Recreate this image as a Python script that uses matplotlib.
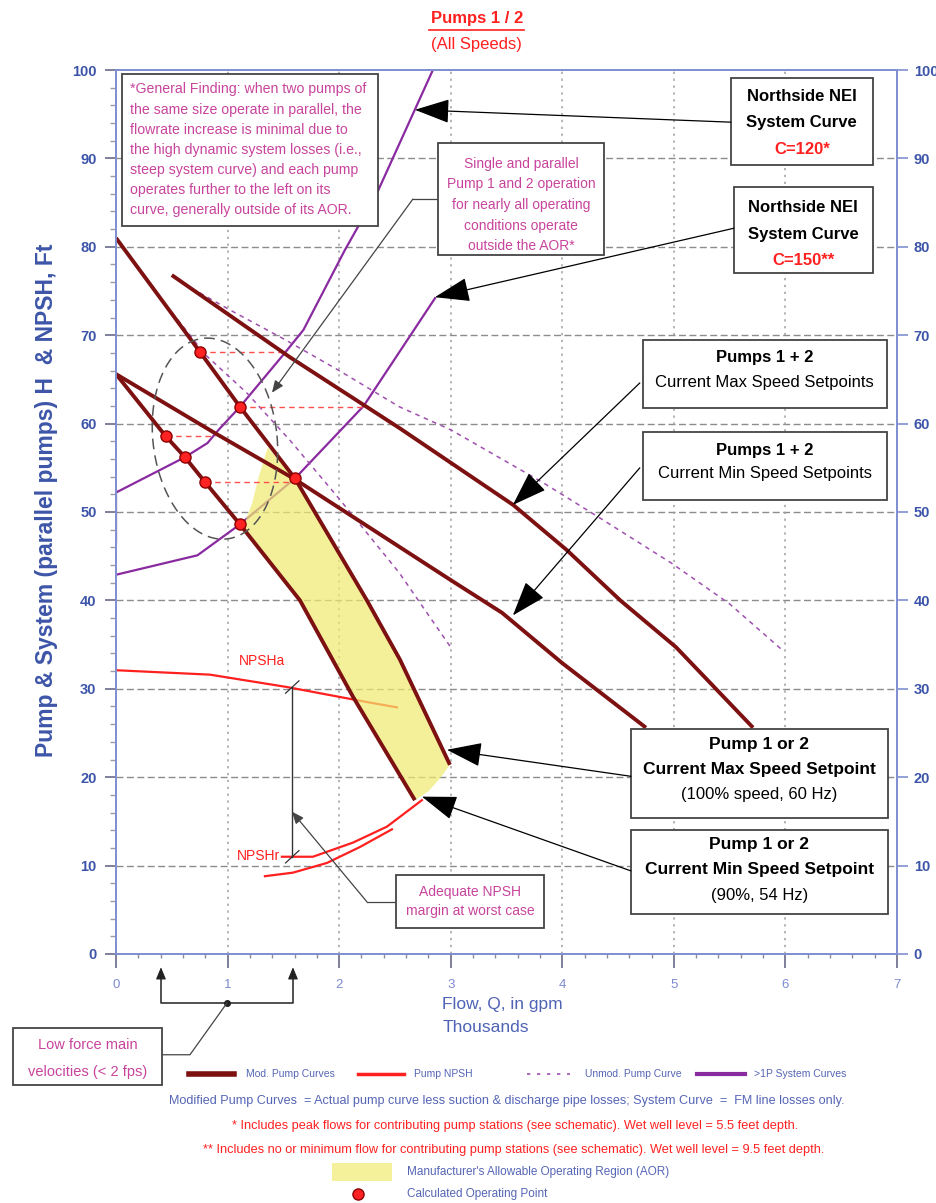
import matplotlib
matplotlib.use("Agg")
import matplotlib.pyplot as plt
import numpy as np
from matplotlib.lines import Line2D
from matplotlib.patches import Rectangle, Polygon
from matplotlib import font_manager

plt.rcParams['font.family'] = ['Liberation Sans', 'DejaVu Sans']
names = {f.name for f in font_manager.fontManager.ttflist}
NARROW = 'Liberation Sans Narrow' if 'Liberation Sans Narrow' in names else 'Liberation Sans'

# ---- data (flow in thousand gpm, head in ft) ----
single_max_q = [0, 0.753, 1.111, 1.604, 2.249, 2.545, 2.993]
single_max_h = [81.0, 68.1, 61.9, 53.8, 40.0, 33.3, 21.4]
single_min_q = [0, 0.444, 0.618, 0.797, 1.111, 1.649, 2.124, 2.679]
single_min_h = [65.6, 58.6, 56.2, 53.4, 48.6, 40.0, 29.1, 17.4]
par_max_q = [0.5, 1.56, 2.54, 3.56, 4.04, 4.52, 5.02, 5.71]
par_max_h = [76.8, 67.5, 59.5, 50.8, 45.7, 40.0, 34.7, 25.6]
par_min_q = [0, 0.89, 1.604, 3.0, 3.46, 4.0, 4.75]
par_min_h = [65.6, 58.9, 53.7, 42.3, 38.6, 32.9, 25.6]

unmod_single_q = [0.5, 0.8, 1.17, 1.56, 2.0, 2.54, 3.0]
unmod_single_h = [72.6, 67.8, 63.5, 58.1, 51.5, 43.1, 34.7]
unmod_par_q = [0.75, 1.0, 1.5, 2.0, 2.54, 3.0, 3.83, 4.34, 4.98, 5.5, 5.97]
unmod_par_h = [74.8, 73.0, 69.6, 66.0, 61.9, 59.3, 53.3, 49.3, 44.2, 39.6, 34.4]

sys120_q = [0, 0, 0.618, 0.82, 0.92, 1.111, 1.52, 1.68, 2.05, 2.34, 2.84]
sys120_h = [46.6, 52.2, 56.2, 57.8, 59.3, 61.9, 68.1, 70.6, 79.6, 86.1, 100]
sys150_q = [0, 0.73, 1.111, 1.604, 2.22, 2.86]
sys150_h = [42.9, 45.1, 48.6, 53.8, 62.0, 74.2]

npsha_q = [0, 0.842, 1.532, 2.249, 2.518]
npsha_h = [32.1, 31.6, 30.2, 28.5, 27.9]
npshr1_q = [1.487, 1.765, 2.124, 2.428, 2.742]
npshr1_h = [11.0, 11.0, 12.6, 14.4, 17.4]
npshr2_q = [1.335, 1.586, 1.891, 2.186, 2.473]
npshr2_h = [8.8, 9.2, 10.3, 12.1, 14.1]

aor_q = [1.36, 1.604, 2.249, 2.545, 2.993, 2.9, 2.8, 2.679, 2.124, 1.649, 1.14, 1.22, 1.28]
aor_h = [57.3, 53.8, 40.0, 33.3, 21.4, 19.8, 18.4, 17.4, 29.1, 40.0, 48.3, 51.0, 54.0]

op_q = [0.753, 1.111, 1.604, 0.444, 0.618, 0.797, 1.111]
op_h = [68.1, 61.9, 53.8, 58.6, 56.2, 53.4, 48.6]
# single-pump point -> parallel point at the same head
par_link_q1 = [0.753, 1.111, 0.444, 0.797]
par_link_q2 = [1.52, 2.22, 0.89, 1.61]
par_link_h = [68.1, 61.9, 58.6, 53.4]

DKRED = '#7d1010'
RED = '#ff2020'
PURPLE = '#8a2aa0'
MAG = '#c8449c'
BLUE = '#3d55a8'
SPINE = '#8090d0'

fig = plt.figure(figsize=(9.37, 12.03), dpi=100)
ax = fig.add_axes([0.1238, 0.2070, 0.8335, 0.7348])
ax.set_xlim(0, 7)
ax.set_ylim(0, 100)

for y in range(10, 100, 10):
    ax.axhline(y, color='#8c8c8c', lw=1, dashes=(5, 2.5), zorder=0.5)
for x in range(1, 7):
    ax.axvline(x, color='#a0a0a0', lw=1.1, dashes=(1.5, 3), zorder=0.5)

for s in ax.spines.values():
    s.set_color(SPINE)
    s.set_linewidth(1.3)
ax.set_xticks(range(8))
ax.set_xticks(np.arange(0, 7.01, 0.2), minor=True)
ax.set_yticks(range(0, 101, 10))
ax.set_yticks(range(0, 101, 2), minor=True)
ax.tick_params(axis='x', which='major', length=10, width=1.2, color='#6a6a8a', pad=8,
               labelsize=9.5, labelcolor='#7d8ad0')
ax.tick_params(axis='x', which='minor', length=3, width=1, color='#8a8a9a')
ax.tick_params(axis='y', which='major', length=8, width=1.2, color='#6a6a8a', pad=6,
               labelsize=10.5, labelcolor=BLUE)
ax.tick_params(axis='y', which='minor', length=4, width=1, color='#9a9aaa')
for lb in ax.get_yticklabels():
    lb.set_fontweight('bold')

tw = ax.twinx()
tw.set_ylim(0, 100)
tw.set_yticks(range(0, 101, 10))
tw.tick_params(axis='y', length=8, width=1.2, color=SPINE, pad=4, labelsize=10.5, labelcolor=BLUE)
for lb in tw.get_yticklabels():
    lb.set_fontweight('bold')
for s in tw.spines.values():
    s.set_color(SPINE)
    s.set_linewidth(1.3)

# curves
ax.plot(sys120_q, sys120_h, color=PURPLE, lw=1.6, zorder=2)
ax.plot(sys150_q, sys150_h, color=PURPLE, lw=1.6, zorder=2)
ax.plot(npsha_q, npsha_h, color=RED, lw=1.6, zorder=2)
ax.plot(npshr1_q, npshr1_h, color=RED, lw=1.6, zorder=2)
ax.plot(npshr2_q, npshr2_h, color=RED, lw=1.6, zorder=2)
ax.add_patch(Polygon(np.column_stack([aor_q, aor_h]), closed=True, facecolor='#f0eb70',
                     edgecolor='none', alpha=0.7, zorder=3))
ax.plot(unmod_single_q, unmod_single_h, color='#a050b0', lw=1.1, dashes=(3, 3), zorder=3.5)
ax.plot(unmod_par_q, unmod_par_h, color='#a050b0', lw=1.1, dashes=(3, 3), zorder=3.5)
for q, h in [(single_max_q, single_max_h), (single_min_q, single_min_h),
             (par_max_q, par_max_h), (par_min_q, par_min_h)]:
    ax.plot(q, h, color=DKRED, lw=2.8, zorder=5, solid_capstyle='butt')

for q1, q2, h in zip(par_link_q1, par_link_q2, par_link_h):
    ax.plot([q1, q2], [h, h], color='#ff5050', lw=1, dashes=(4, 3), zorder=4)
ax.plot(op_q, op_h, 'o', ms=8, mfc='#ff2222', mec='#8b0000', mew=1, zorder=7)

# dashed ellipse around the low-flow operating points
t = np.linspace(0, 2 * np.pi, 300)
th = np.radians(7)
ex = 62 * np.cos(t) * np.cos(th) - 101 * np.sin(t) * np.sin(th)
ey = 62 * np.cos(t) * np.sin(th) + 101 * np.sin(t) * np.cos(th)
ax.plot(0.887 + ex / 111.6, 58.3 + ey / 8.84, color='#555555', lw=1.1, dashes=(7, 4), zorder=6)

# NPSH margin dimension
ax.plot([1.577, 1.577], [30.2, 11.0], color='#333333', lw=1, zorder=6)
for yy in (30.2, 11.0):
    ax.plot([1.52, 1.64], [yy - 0.7, yy + 0.7], color='#333333', lw=0.9, zorder=6)
ax.text(1.31, 32.3, 'NPSHa', color=RED, fontsize=10, ha='center', va='bottom', zorder=6)
ax.text(1.47, 11.1, 'NPSHr', color=RED, fontsize=10, ha='right', va='center', zorder=6)


def box(x0, y0, x1, y1):
    ax.add_patch(Rectangle((x0, y0), x1 - x0, y1 - y0, facecolor='white', edgecolor='#444444',
                           lw=1.3, zorder=8, clip_on=False))


def big_arrow(start, tip):
    ax.annotate('', xy=tip, xytext=start, zorder=9, annotation_clip=False,
                arrowprops=dict(arrowstyle='-|>,head_length=1.3,head_width=0.45', color='black',
                                lw=0.9, mutation_scale=17, shrinkA=0, shrinkB=0))


def small_arrow(start, tip, color='#444444'):
    ax.annotate('', xy=tip, xytext=start, zorder=9, annotation_clip=False,
                arrowprops=dict(arrowstyle='-|>,head_length=0.6,head_width=0.25', color=color,
                                lw=0.9, mutation_scale=12, shrinkA=0, shrinkB=0))


# general finding note
box(0.054, 82.4, 2.348, 99.5)
finding = ['*General Finding: when two pumps of', 'the same size operate in parallel, the',
           'flowrate increase is minimal due to', 'the high dynamic system losses (i.e.,',
           'steep system curve) and each pump', 'operates further to the left on its',
           'curve, generally outside of its AOR.']
for i, s in enumerate(finding):
    ax.text(0.125, 97.8 - i * 2.27, s, color=MAG, fontsize=10.2, ha='left', va='center', zorder=9)

# single & parallel note
box(2.885, 79.1, 4.373, 91.7)
for s, y in zip(['Single and parallel', 'Pump 1 and 2 operation', 'for nearly all operating',
                 'conditions operate', 'outside the AOR*'], [89.4, 87.08, 84.75, 82.41, 80.09]):
    ax.text(3.63, y, s, color=MAG, fontsize=10, ha='center', va='center', zorder=9)
ax.plot([2.885, 2.661], [85.4, 85.4], color='#444444', lw=0.9, zorder=6)
small_arrow((2.661, 85.4), (1.398, 63.5))

# system curve boxes
box(5.511, 89.3, 6.783, 99.1)
ax.text(6.147, 97.06, 'Northside NEI', fontsize=12, fontweight='bold', ha='center', va='center', zorder=9)
ax.text(6.147, 94.1, 'System Curve', fontsize=12, fontweight='bold', ha='center', va='center', zorder=9)
ax.text(6.147, 91.06, 'C=120*', fontsize=12, fontweight='bold', color=RED, ha='center', va='center', zorder=9)
big_arrow((5.511, 94.1), (2.679, 95.5))

box(5.538, 77.0, 6.783, 86.8)
ax.text(6.16, 84.4, 'Northside NEI', fontsize=12, fontweight='bold', ha='center', va='center', zorder=9)
ax.text(6.16, 81.4, 'System Curve', fontsize=12, fontweight='bold', ha='center', va='center', zorder=9)
ax.text(6.16, 78.5, 'C=150**', fontsize=12, fontweight='bold', color=RED, ha='center', va='center', zorder=9)
big_arrow((5.538, 82.1), (2.858, 74.3))

# parallel pump boxes
box(4.722, 61.8, 6.909, 69.5)
ax.text(5.815, 67.5, 'Pumps 1 + 2', fontsize=12, fontweight='bold', ha='center', va='center', zorder=9)
ax.text(5.815, 64.6, 'Current Max Speed Setpoints', fontsize=12, ha='center', va='center', zorder=9)
big_arrow((4.695, 64.6), (3.557, 50.8))

box(4.722, 51.4, 6.909, 59.0)
ax.text(5.815, 57.0, 'Pumps 1 + 2', fontsize=12, fontweight='bold', ha='center', va='center', zorder=9)
ax.text(5.815, 54.3, 'Current Min Speed Setpoints', fontsize=12, ha='center', va='center', zorder=9)
big_arrow((4.695, 55.0), (3.557, 38.3))

# single pump boxes
box(4.615, 15.4, 6.918, 25.5)
ax.text(5.766, 23.7, 'Pump 1 or 2', fontsize=12.5, fontweight='bold', ha='center', va='center', zorder=9)
ax.text(5.766, 20.85, 'Current Max Speed Setpoint', fontsize=12.5, fontweight='bold', ha='center', va='center', zorder=9)
ax.text(5.766, 18.0, '(100% speed, 60 Hz)', fontsize=12, ha='center', va='center', zorder=9)
big_arrow((4.615, 20.1), (2.966, 23.1))

box(4.615, 4.5, 6.918, 14.0)
ax.text(5.766, 12.4, 'Pump 1 or 2', fontsize=12.5, fontweight='bold', ha='center', va='center', zorder=9)
ax.text(5.766, 9.55, 'Current Min Speed Setpoint', fontsize=12.5, fontweight='bold', ha='center', va='center', zorder=9)
ax.text(5.766, 6.58, '(90%, 54 Hz)', fontsize=12, ha='center', va='center', zorder=9)
big_arrow((4.615, 9.4), (2.742, 17.8))

# NPSH margin note
box(2.509, 2.9, 3.835, 8.9)
ax.text(3.172, 7.05, 'Adequate NPSH', color=MAG, fontsize=10, ha='center', va='center', zorder=9)
ax.text(3.172, 4.9, 'margin at worst case', color=MAG, fontsize=10, ha='center', va='center', zorder=9)
ax.plot([2.509, 2.249], [5.9, 5.9], color='#444444', lw=0.9, zorder=6)
small_arrow((2.249, 5.9), (1.577, 16.1))

# low velocity bracket below the axis
ax.plot([0.403, 0.403, 1.586, 1.586], [-2.5, -5.54, -5.54, -2.5], color='#333333', lw=1.2, clip_on=False)
small_arrow((0.403, -2.6), (0.403, -1.5), color='#222222')
small_arrow((1.586, -2.6), (1.586, -1.5), color='#222222')
ax.plot([0.995], [-5.54], 'o', ms=4, color='#222222', clip_on=False)
ax.plot([0.995, 0.663, 0.412], [-5.54, -11.4, -11.4], color='#444444', lw=0.9, clip_on=False)
box(-0.923, -14.8, 0.412, -8.37)
ax.text(-0.255, -10.3, 'Low force main', color=MAG, fontsize=10.5, ha='center', va='center', zorder=9, clip_on=False)
ax.text(-0.255, -13.3, 'velocities (< 2 fps)', color=MAG, fontsize=10.5, ha='center', va='center', zorder=9, clip_on=False)

# titles and axis labels
fig.text(0.509, 1 - 18 / 1203, 'Pumps 1 / 2', color=RED, fontsize=12, fontweight='bold', ha='center', va='center')
fig.add_artist(Line2D([429 / 937, 524 / 937], [1 - 30 / 1203] * 2, color=RED, lw=1.2))
fig.text(0.509, 1 - 45 / 1203, '(All Speeds)', color=RED, fontsize=12, ha='center', va='center')
fig.text(47 / 937, 1 - 500 / 1203, 'Pump & System (parallel pumps) H  & NPSH, Ft', color=BLUE, fontsize=16.5,
         fontweight='bold', rotation=90, ha='center', va='center')
fig.text(502 / 937, 1 - 1005 / 1203, 'Flow, Q, in gpm', color='#4f63b5', fontsize=12.5, ha='center', va='center')
fig.text(486 / 937, 1 - 1028 / 1203, 'Thousands', color='#4f63b5', fontsize=12.5, ha='center', va='center')

# legend strip
def fy(py):
    return 1 - py / 1203


ly = fy(1074)
leg_color = '#5565b5'
fig.add_artist(Line2D([189 / 937, 234 / 937], [ly, ly], color=DKRED, lw=4))
fig.text(246 / 937, ly, 'Mod. Pump Curves', color=leg_color, fontsize=7.5, family=NARROW, va='center')
fig.add_artist(Line2D([358 / 937, 404 / 937], [ly, ly], color=RED, lw=2.5))
fig.text(414 / 937, ly, 'Pump NPSH', color=leg_color, fontsize=7.5, family=NARROW, va='center')
fig.add_artist(Line2D([527 / 937, 570 / 937], [ly, ly], color='#a050b0', lw=1.2, dashes=(2, 4)))
fig.text(585 / 937, ly, 'Unmod. Pump Curve', color=leg_color, fontsize=7.5, family=NARROW, va='center')
fig.add_artist(Line2D([697 / 937, 745 / 937], [ly, ly], color=PURPLE, lw=3))
fig.text(754 / 937, ly, '>1P System Curves', color=leg_color, fontsize=7.5, family=NARROW, va='center')

notes = [('Modified Pump Curves  = Actual pump curve less suction & discharge pipe losses; '
          'System Curve  =  FM line losses only.', leg_color, 507, 1101, 679),
         ('* Includes peak flows for contributing pump stations (see schematic). '
          'Wet well level = 5.5 feet depth.', RED, 515, 1126, 565),
         ('** Includes no or minimum flow for contributing pump stations (see schematic). '
          'Wet well level = 9.5 feet depth.', RED, 514, 1150, 620)]
renderer = fig.canvas.get_renderer()
for s, c, cx, cy, wpx in notes:
    tx = fig.text(cx / 937, fy(cy), s, color=c, fontsize=9, family=NARROW, ha='center', va='center')
    w = tx.get_window_extent(renderer).width
    tx.set_fontsize(9 * wpx / w)

fig.add_artist(Rectangle((332 / 937, fy(1181)), 60 / 937, 18 / 1203, transform=fig.transFigure,
                         facecolor='#f5f19a', edgecolor='none'))
fig.text(407 / 937, fy(1172), "Manufacturer's Allowable Operating Region (AOR)", color=leg_color,
         fontsize=8.5, family=NARROW, va='center')
fig.add_artist(Line2D([358 / 937], [fy(1194)], marker='o', ms=8, mfc='#ff2222', mec='#8b0000', mew=1))
fig.text(407 / 937, fy(1194), 'Calculated Operating Point', color=leg_color, fontsize=8.5,
         family=NARROW, va='center')

fig.savefig('out.png', dpi=100)
